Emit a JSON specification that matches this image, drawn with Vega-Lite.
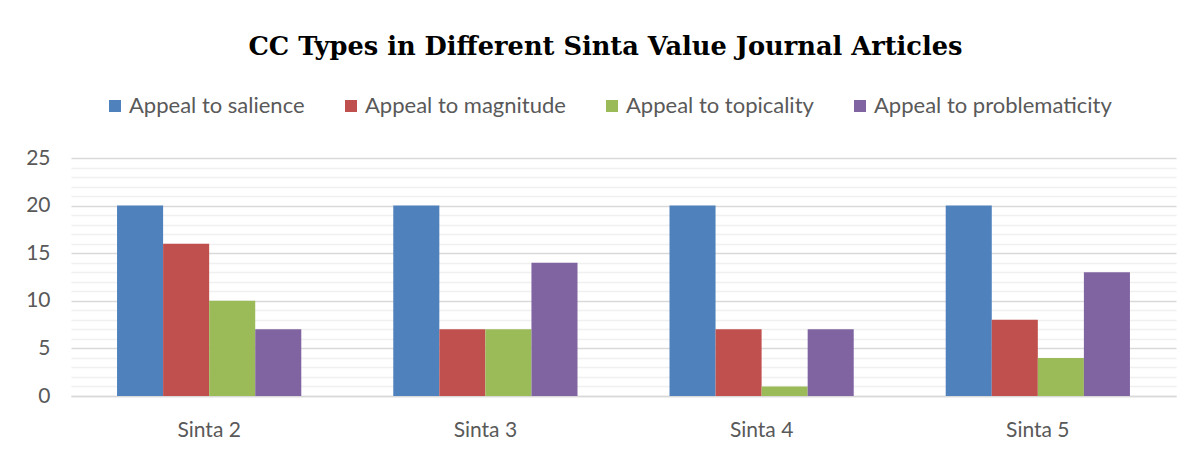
{
  "$schema": "https://vega.github.io/schema/vega-lite/v6.json",
  "width": 1105,
  "height": 238,
  "autosize": {"type": "none"},
  "padding": {"left": 71, "top": 158, "right": 25, "bottom": 59},
  "background": "white",
  "title": {
    "text": "CC Types in Different Sinta Value Journal Articles",
    "font": "DejaVu Serif",
    "fontSize": 25.7,
    "fontWeight": "bold",
    "color": "#000000",
    "anchor": "middle",
    "frame": "group",
    "dx": -18,
    "offset": 34
  },
  "data": {
    "values": [
      {"sinta": "Sinta 2", "type": "Appeal to salience", "value": 20},
      {"sinta": "Sinta 2", "type": "Appeal to magnitude", "value": 16},
      {"sinta": "Sinta 2", "type": "Appeal to topicality", "value": 10},
      {"sinta": "Sinta 2", "type": "Appeal to problematicity", "value": 7},
      {"sinta": "Sinta 3", "type": "Appeal to salience", "value": 20},
      {"sinta": "Sinta 3", "type": "Appeal to magnitude", "value": 7},
      {"sinta": "Sinta 3", "type": "Appeal to topicality", "value": 7},
      {"sinta": "Sinta 3", "type": "Appeal to problematicity", "value": 14},
      {"sinta": "Sinta 4", "type": "Appeal to salience", "value": 20},
      {"sinta": "Sinta 4", "type": "Appeal to magnitude", "value": 7},
      {"sinta": "Sinta 4", "type": "Appeal to topicality", "value": 1},
      {"sinta": "Sinta 4", "type": "Appeal to problematicity", "value": 7},
      {"sinta": "Sinta 5", "type": "Appeal to salience", "value": 20},
      {"sinta": "Sinta 5", "type": "Appeal to magnitude", "value": 8},
      {"sinta": "Sinta 5", "type": "Appeal to topicality", "value": 4},
      {"sinta": "Sinta 5", "type": "Appeal to problematicity", "value": 13}
    ]
  },
  "mark": {"type": "bar"},
  "encoding": {
    "x": {
      "field": "sinta",
      "type": "nominal",
      "sort": null,
      "scale": {"paddingInner": 0.333, "paddingOuter": 0.1667},
      "axis": {
        "title": null,
        "labelAngle": 0,
        "labelFont": "Lato",
        "labelFontSize": 21,
        "labelColor": "#595959",
        "labelPadding": 23,
        "ticks": false,
        "domain": true,
        "domainColor": "#d9d9d9",
        "domainWidth": 1.3
      }
    },
    "xOffset": {
      "field": "type",
      "sort": ["Appeal to salience", "Appeal to magnitude", "Appeal to topicality", "Appeal to problematicity"]
    },
    "y": {
      "field": "value",
      "type": "quantitative",
      "scale": {"domain": [0, 25], "nice": false},
      "axis": {
        "title": null,
        "values": [0,1,2,3,4,5,6,7,8,9,10,11,12,13,14,15,16,17,18,19,20,21,22,23,24,25],
        "labelExpr": "datum.value % 5 === 0 ? datum.label : ''",
        "labelOverlap": false,
        "labelFont": "Lato",
        "labelFontSize": 21,
        "labelColor": "#595959",
        "labelPadding": 21,
        "ticks": false,
        "domain": false,
        "gridColor": {"condition": {"test": "datum.value % 5 === 0", "value": "#d9d9d9"}, "value": "#f0f0f0"},
        "gridWidth": 1.3
      }
    },
    "color": {
      "field": "type",
      "type": "nominal",
      "sort": ["Appeal to salience", "Appeal to magnitude", "Appeal to topicality", "Appeal to problematicity"],
      "scale": {"range": ["#4f81bd", "#c0504d", "#9bbb59", "#8064a2"]},
      "legend": {
        "title": null,
        "orient": "none",
        "legendX": 33,
        "legendY": -63,
        "direction": "horizontal",
        "columns": 4,
        "symbolType": "square",
        "symbolSize": 144,
        "symbolStrokeWidth": 0,
        "labelFont": "Lato",
        "labelFontSize": 22,
        "labelLimit": 400,
        "labelColor": "#595959",
        "labelOffset": 3,
        "columnPadding": 35
      }
    }
  },
  "config": {"view": {"stroke": null}}
}
